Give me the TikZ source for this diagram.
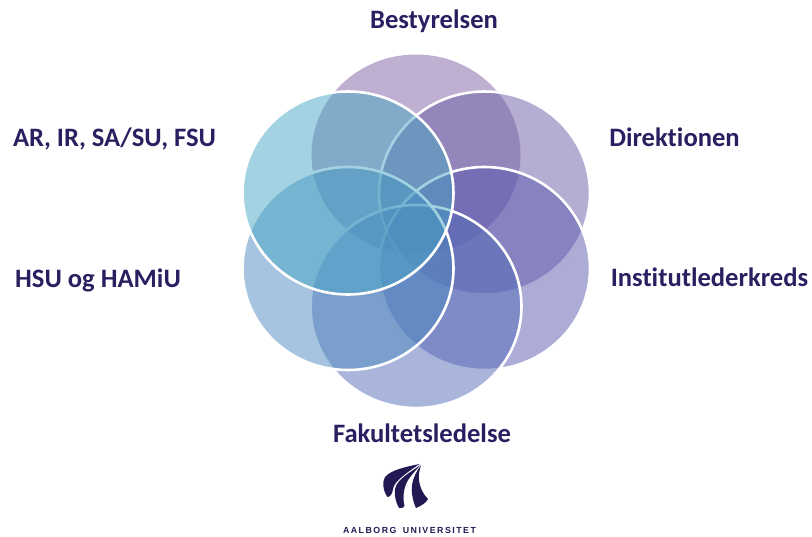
\documentclass[tikz,border=0pt]{standalone}
\usepackage{fontspec}
\setmainfont[Ligatures=CommonOff]{Carlito}
\newfontfamily\logofont[LetterSpace=17,WordSpace=1.6]{Liberation Sans}
\definecolor{navy}{HTML}{2A1F60}
\definecolor{logoblue}{HTML}{211A52}
\definecolor{cA}{HTML}{7F61A3}
\definecolor{cB}{HTML}{6B5BA5}
\definecolor{cC}{HTML}{5959AF}
\definecolor{cD}{HTML}{536BB7}
\definecolor{cE}{HTML}{4D89BF}
\definecolor{cF}{HTML}{47A7C5}
\tikzset{
  petal/.style={ellipse, draw=white, line width=2.6pt, fill=#1, fill opacity=.5, inner sep=0pt, minimum width=211pt, minimum height=203pt, outer sep=0pt},
  bare/.style={ellipse, fill=#1, fill opacity=.5, inner sep=0pt, minimum width=209pt, minimum height=200pt, outer sep=0pt},
  lab/.style={font=\fontsize{26.6pt}{28pt}\selectfont\bfseries, text=navy, inner sep=0pt, anchor=base},
}
\usetikzlibrary{shapes.geometric}
\begin{document}
\begin{tikzpicture}[x=1pt,y=-1pt]
\useasboundingbox (0,0) rectangle (812,537);
\node[bare=cA] (bestyrelsen) at (416,154.5) {};
\node[petal=cB] (direktionen) at (484.5,193) {};
\node[petal=cC] (institut) at (484.5,268.5) {};
\node[petal=cD] (fakultet) at (416,306.5) {};
\node[petal=cE] (hsu) at (348,268.5) {};
\node[petal=cF] (ar) at (348,193) {};
\node[lab] (t1) at (434,28.2) {Bestyrelsen};
\node[lab] (t2) at (674.5,146.7) {Direktionen};
\node[lab] (t3) at (114.5,146.7) {AR, IR, SA/SU, FSU};
\node[lab] (t4) at (98,287.7) {HSU og HAMiU};
\node[lab] (t5) at (709.5,286.7) {Institutlederkreds};
\node[lab] (t6) at (422,442.7) {Fakultetsledelse};
\fill[logoblue] (419.5,464) .. controls (405,467) and (391,470) .. (385,477)
  .. controls (382,482) and (383,491) .. (387.5,497)
  .. controls (390.5,497) and (392.5,493) .. (393,489)
  .. controls (394,481) and (408,472) .. cycle;
\fill[logoblue] (420.5,465) .. controls (411,472) and (397,479) .. (395,489)
  .. controls (394,495) and (396,503) .. (399,508)
  .. controls (401.5,508.5) and (404,508) .. (404.5,506)
  .. controls (402,496) and (404,484) .. (411,476) .. controls (414,472) and (418,468) .. cycle;
\fill[logoblue] (421,465.5) .. controls (415,473) and (410.5,483) .. (412,494)
  .. controls (413,500) and (414,504) .. (416,508)
  .. controls (421,506) and (426,503) .. (428,499)
  .. controls (423,494) and (420,488) .. (419,480)
  .. controls (418,474) and (420,469) .. cycle;
\node[font=\logofont\bfseries\fontsize{8.8pt}{9pt}\selectfont, text=logoblue, inner sep=0pt, anchor=base] (logotext) at (409.5,533.5) {AALBORG UNIVERSITET};
\end{tikzpicture}
\end{document}
